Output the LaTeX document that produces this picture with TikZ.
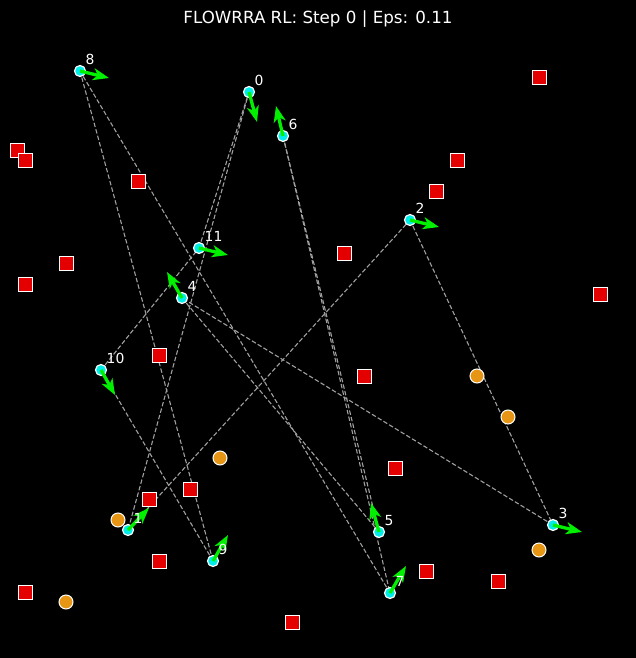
\documentclass[tikz,border=0pt]{standalone}
\usepackage{fontspec}
\setmainfont{DejaVu Sans}
\usetikzlibrary{arrows.meta}
\definecolor{obsred}{RGB}{228,0,0}
\definecolor{goalor}{RGB}{230,150,20}
\definecolor{linkgray}{RGB}{160,160,160}
\definecolor{velgreen}{RGB}{0,240,0}
\definecolor{agentcyan}{RGB}{0,235,235}
\tikzset{
  agent/.style={circle, fill=agentcyan, draw=white, line width=1.2pt, minimum size=11pt, inner sep=0pt},
  obst/.style={rectangle, fill=obsred, draw=white, line width=1pt, minimum size=14pt, inner sep=0pt},
  goal/.style={circle, fill=goalor, draw=white, line width=1pt, minimum size=14pt, inner sep=0pt},
  link/.style={draw=linkgray, dash pattern=on 4.5pt off 2.2pt, line width=1.1pt},
  vel/.style={draw=velgreen, line width=3.3pt, -{Stealth[length=16pt,width=12pt,inset=4.5pt]}},
  lbl/.style={text=white, anchor=south west, inner sep=0pt, font=\fontsize{13.9}{15}\selectfont},
}
\begin{document}
\begin{tikzpicture}[x=1pt,y=-1pt]
\fill[black] (0,0) rectangle (636,658);
\useasboundingbox (0,0) rectangle (636,658);
\node[text=white, anchor=base, inner sep=0pt, font=\fontsize{16.7}{20}\selectfont] (title) at (318,24) {FLOWRRA RL: Step 0 | Eps: 0.11};
% agent positions
\coordinate (p0) at (249,92);
\coordinate (p1) at (128,530);
\coordinate (p2) at (410,220);
\coordinate (p3) at (553,525);
\coordinate (p4) at (182,298);
\coordinate (p5) at (379,532);
\coordinate (p6) at (283,136);
\coordinate (p7) at (390,593);
\coordinate (p8) at (80,71);
\coordinate (p9) at (213,561);
\coordinate (p10) at (101,370);
\coordinate (p11) at (199,248);
% velocity tips
\coordinate (t0) at (257,122);
\coordinate (t1) at (149,508);
\coordinate (t2) at (439,227);
\coordinate (t3) at (582,532);
\coordinate (t4) at (167,272);
\coordinate (t5) at (371,503);
\coordinate (t6) at (276,106);
\coordinate (t7) at (406,566);
\coordinate (t8) at (109,78);
\coordinate (t9) at (228,535);
\coordinate (t10) at (115,395);
\coordinate (t11) at (228,255);
% ring links
\draw[link] (p0) -- (p1);
\draw[link] (p1) -- (p2);
\draw[link] (p2) -- (p3);
\draw[link] (p3) -- (p4);
\draw[link] (p4) -- (p5);
\draw[link] (p5) -- (p6);
\draw[link] (p6) -- (p7);
\draw[link] (p7) -- (p8);
\draw[link] (p8) -- (p9);
\draw[link] (p9) -- (p10);
\draw[link] (p10) -- (p11);
\draw[link] (p11) -- (p0);
% obstacles
\node[obst] (o1) at (17,150) {};
\node[obst] (o2) at (25,160) {};
\node[obst] (o3) at (539,78) {};
\node[obst] (o4) at (457,160) {};
\node[obst] (o5) at (138,181) {};
\node[obst] (o6) at (436,191) {};
\node[obst] (o7) at (344,253) {};
\node[obst] (o8) at (66,263) {};
\node[obst] (o9) at (25,284) {};
\node[obst] (o10) at (600,294) {};
\node[obst] (o11) at (159,355) {};
\node[obst] (o12) at (364,376) {};
\node[obst] (o13) at (395,468) {};
\node[obst] (o14) at (190,489) {};
\node[obst] (o15) at (149,499) {};
\node[obst] (o16) at (159,561) {};
\node[obst] (o17) at (426,571) {};
\node[obst] (o18) at (498,581) {};
\node[obst] (o19) at (25,592) {};
\node[obst] (o20) at (292,622) {};
% goals
\node[goal] (g1) at (477,376) {};
\node[goal] (g2) at (508,417) {};
\node[goal] (g3) at (220,458) {};
\node[goal] (g4) at (118,520) {};
\node[goal] (g5) at (539,550) {};
\node[goal] (g6) at (66,602) {};
% agents
\foreach \i in {0,...,11} {\node[agent] (n\i) at (p\i) {};}
% velocities
\foreach \i in {0,...,11} {\draw[vel] (p\i) -- (t\i);}
% labels
\foreach \i in {0,...,11} {\node[lbl] (l\i) at ([shift={(5.5,-6)}]p\i) {\i};}
\end{tikzpicture}
\end{document}
